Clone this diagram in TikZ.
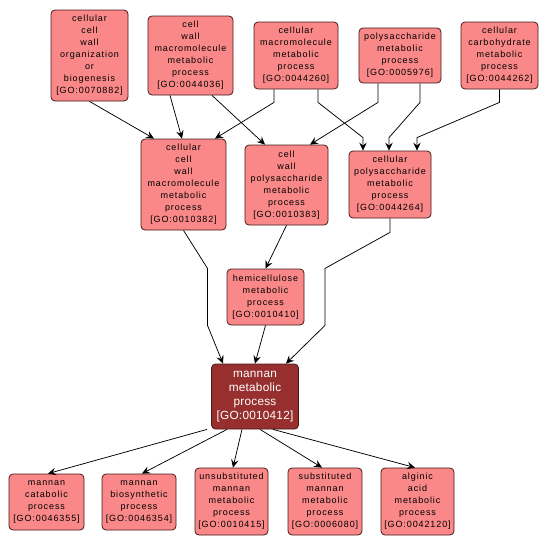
\documentclass[tikz,border=0pt]{standalone}
\usepackage{fontspec}
\setmainfont{Liberation Sans}
\newfontfamily\gofam[LetterSpace=10]{Liberation Sans}
\newfontfamily\selfam[LetterSpace=2]{Liberation Sans}
\usepackage{tikz}
\usetikzlibrary{arrows.meta,positioning}

\definecolor{termfill}{RGB}{250,136,136}
\definecolor{selfill}{RGB}{152,47,47}
\definecolor{termline}{RGB}{70,25,25}

\begin{document}
\begin{tikzpicture}[
  x=1pt, y=-1pt,
  term/.style 2 args={draw=termline, fill=termfill, rounded corners=4pt,
              line width=0.8pt, inner sep=0pt, align=center,
              minimum width=#1, minimum height=#2,
              font=\gofam\fontsize{9}{12}\selectfont},
  sel/.style 2 args={term={#1}{#2}, fill=selfill, text=white,
              font=\selfam\fontsize{11.8}{14.3}\selectfont},
  link/.style={draw, line width=0.75pt,
              -{Stealth[length=8pt,width=7.5pt,inset=3pt]}}
]
\useasboundingbox (0,0) rectangle (549,546);

% top row
\node[term={77pt}{91pt}] (orgbio)  at (89.5,55.5)  {cellular\\cell\\wall\\organization\\or\\biogenesis\\{[GO:0070882]}};
\node[term={85pt}{79pt}] (cwmm)    at (190.5,55.5) {cell\\wall\\macromolecule\\metabolic\\process\\{[GO:0044036]}};
\node[term={84pt}{67pt}] (cmm)     at (296,55.5)   {cellular\\macromolecule\\metabolic\\process\\{[GO:0044260]}};
\node[term={82pt}{55pt}] (psm)     at (400,55.5)   {polysaccharide\\metabolic\\process\\{[GO:0005976]}};
\node[term={77pt}{67pt}] (ccm)     at (499.5,55.5) {cellular\\carbohydrate\\metabolic\\process\\{[GO:0044262]}};

% middle row
\node[term={85pt}{91pt}] (ccwmm)   at (183.5,184.5) {cellular\\cell\\wall\\macromolecule\\metabolic\\process\\{[GO:0010382]}};
\node[term={83pt}{80pt}] (cwpsm)   at (286.5,185)   {cell\\wall\\polysaccharide\\metabolic\\process\\{[GO:0010383]}};
\node[term={82pt}{67pt}] (cpsm)    at (390,184.5)   {cellular\\polysaccharide\\metabolic\\process\\{[GO:0044264]}};
\node[term={77pt}{56pt}] (hemi)    at (265.5,297)   {hemicellulose\\metabolic\\process\\{[GO:0010410]}};

% selected term
\node[sel={87pt}{65pt}]  (mannan)  at (255,396.5)   {mannan\\metabolic\\process\\{[GO:0010412]}};

% bottom row
\node[term={75pt}{56pt}] (mcat)    at (46.5,502)    {mannan\\catabolic\\process\\{[GO:0046355]}};
\node[term={74pt}{56pt}] (mbio)    at (139,502)     {mannan\\biosynthetic\\process\\{[GO:0046354]}};
\node[term={73pt}{67pt}] (unsub)   at (231.5,501.5) {unsubstituted\\mannan\\metabolic\\process\\{[GO:0010415]}};
\node[term={74pt}{67pt}] (subst)   at (325,501.5)   {substituted\\mannan\\metabolic\\process\\{[GO:0006080]}};
\node[term={73pt}{67pt}] (alg)     at (417.5,501.5) {alginic\\acid\\metabolic\\process\\{[GO:0042120]}};

% edges into middle row
\draw[link] (orgbio.south) -- ([xshift=-29.5pt]ccwmm.north);
\draw[link] ([xshift=-20.5pt]cwmm.south) -- ([xshift=-1.5pt]ccwmm.north);
\draw[link] ([xshift=-22pt]cmm.south) -- ++(0,13) -- ([xshift=31.5pt]ccwmm.north);
\draw[link] ([xshift=21.5pt]cwmm.south) -- ([xshift=-21.5pt]cwpsm.north);
\draw[link] ([xshift=-22pt]psm.south) -- ++(0,19) -- ([xshift=23.5pt]cwpsm.north);
\draw[link] ([xshift=22pt]cmm.south) -- ++(0,13) -- ([xshift=-27pt,yshift=13pt]cpsm.north) -- ([xshift=-27pt]cpsm.north);
\draw[link] ([xshift=20pt]psm.south) -- ++(0,19) -- ([xshift=-1pt,yshift=13pt]cpsm.north) -- ([xshift=-1pt]cpsm.north);
\draw[link] (ccm.south) -- ++(0,13) -- ([xshift=27pt,yshift=13pt]cpsm.north) -- ([xshift=27pt]cpsm.north);

% edges into mannan
\draw[link] (cwpsm.south) -- (hemi.north);
\draw[link] (ccwmm.south) -- ++(24,38) -- ++(0,57) -- ([xshift=-32pt]mannan.north);
\draw[link] (hemi.south) -- (mannan.north);
\draw[link] (cpsm.south) -- ++(0,14) -- ++(-65,36) -- ++(0,57) -- ([xshift=31pt]mannan.north);

% edges out of mannan
\draw[link] ([xshift=-48pt]mannan.south) -- ([xshift=1.5pt]mcat.north);
\draw[link] ([xshift=-28pt]mannan.south) -- ([xshift=3pt]mbio.north);
\draw[link] ([xshift=-13pt]mannan.south) -- ([xshift=1.5pt]unsub.north);
\draw[link] ([xshift=5pt]mannan.south) -- ([xshift=-3pt]subst.north);
\draw[link] ([xshift=18pt]mannan.south) -- ([xshift=-2.5pt]alg.north);
\end{tikzpicture}
\end{document}
